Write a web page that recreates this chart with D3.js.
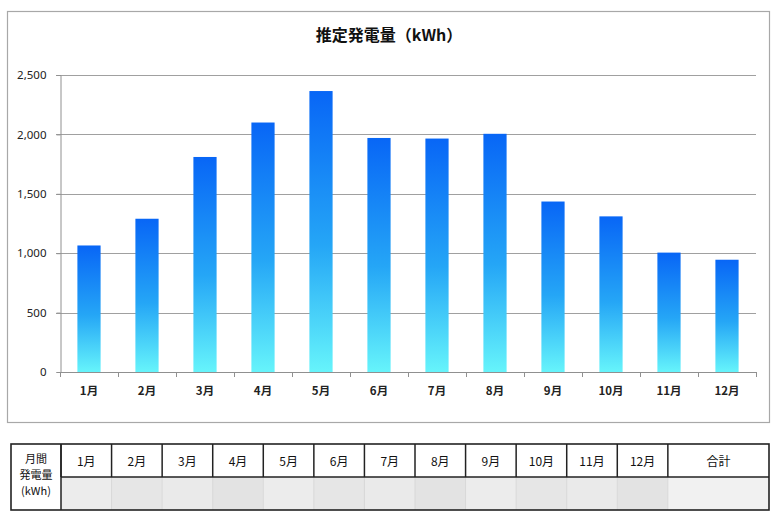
<!DOCTYPE html>
<html>
<head>
<meta charset="utf-8">
<script src="https://cdn.jsdelivr.net/npm/d3@7"></script>
<style>
  html, body { margin: 0; padding: 0; background: #fff; }
  svg { display: block; font-family: "Noto Sans CJK JP", "Noto Sans", sans-serif; }
</style>
</head>
<body>
<svg id="chart" width="779" height="523"></svg>
<script>
// ---- data ----
const months = ["1月","2月","3月","4月","5月","6月","7月","8月","9月","10月","11月","12月"];
const generation = [1065, 1290, 1810, 2100, 2365, 1970, 1965, 2005, 1435, 1310, 1005, 945];
const yTicks = [0, 500, 1000, 1500, 2000, 2500];
const title = "推定発電量（kWh）";
const tableRowLabel = ["月間", "発電量", "(kWh)"];
const tableHeaders = months.concat(["合計"]);

// ---- drawing ----
const svg = d3.select("#chart");
const defs = svg.append("defs");
const grad = defs.append("linearGradient")
  .attr("id", "barGrad").attr("x1", 0).attr("y1", 0).attr("x2", 0).attr("y2", 1);
grad.append("stop").attr("offset", "0%").attr("stop-color", "#0866f6");
grad.append("stop").attr("offset", "55%").attr("stop-color", "#25a6f6");
grad.append("stop").attr("offset", "100%").attr("stop-color", "#66f4fb");

// chart frame
svg.append("rect")
  .attr("x", 7.5).attr("y", 11.5).attr("width", 762).attr("height", 411)
  .attr("fill", "#fff").attr("stroke", "#a8a8a8").attr("stroke-width", 1.2);

// title
svg.append("text")
  .attr("x", 389).attr("y", 41)
  .attr("text-anchor", "middle")
  .attr("font-size", 16).attr("font-weight", "bold").attr("fill", "#111")
  .text(title);

const plotLeft = 60, plotRight = 756, plotTop = 75, plotBottom = 372;

const y = d3.scaleLinear().domain([0, 2500]).range([plotBottom, plotTop]);
const x = d3.scaleBand().domain(months).range([plotLeft, plotRight])
  .paddingInner(0.6).paddingOuter(0.3);

// gridlines
svg.append("g").selectAll("line")
  .data(yTicks.filter(d => d > 0))
  .join("line")
  .attr("x1", plotLeft - 4).attr("x2", plotRight)
  .attr("y1", d => Math.round(y(d)) + 0.5).attr("y2", d => Math.round(y(d)) + 0.5)
  .attr("stroke", "#a0a0a0").attr("stroke-width", 1);

// y axis
const yAxis = svg.append("g")
  .attr("transform", `translate(${plotLeft + 0.5},0)`)
  .call(d3.axisLeft(y).tickValues(yTicks).tickSize(4).tickPadding(10)
    .tickFormat(d3.format(",")));
yAxis.select(".domain").attr("stroke", "#909090");
yAxis.selectAll(".tick line").attr("stroke", "#909090");
yAxis.selectAll("text").attr("font-size", 11.5).attr("fill", "#222")
  .attr("font-family", "'Noto Sans', 'DejaVu Sans', sans-serif");

// bars
svg.append("g").selectAll("rect")
  .data(months.map((m, i) => ({ m, v: generation[i] })))
  .join("rect")
  .attr("x", d => x(d.m))
  .attr("y", d => y(d.v))
  .attr("width", x.bandwidth())
  .attr("height", d => y(0) - y(d.v))
  .attr("fill", "url(#barGrad)");

// x axis
const step = x.step();
const xg = svg.append("g");
xg.append("line")
  .attr("x1", plotLeft).attr("x2", plotRight)
  .attr("y1", plotBottom + 0.5).attr("y2", plotBottom + 0.5)
  .attr("stroke", "#909090");
xg.selectAll("line.tk")
  .data(d3.range(months.length + 1))
  .join("line").attr("class", "tk")
  .attr("x1", i => Math.round(plotLeft + i * step) + 0.5)
  .attr("x2", i => Math.round(plotLeft + i * step) + 0.5)
  .attr("y1", plotBottom).attr("y2", plotBottom + 5)
  .attr("stroke", "#909090");
xg.selectAll("text")
  .data(months)
  .join("text")
  .attr("x", d => x(d) + x.bandwidth() / 2)
  .attr("y", 395)
  .attr("text-anchor", "middle")
  .attr("font-size", 11.5).attr("font-weight", "bold").attr("fill", "#222")
  .text(d => d);

// ---- table ----
const tLeft = 11, tFirst = 61, tRight = 769, tTop = 444, tMid = 477, tBottom = 510;
const units = d3.sum(tableHeaders, d => d === "合計" ? 2 : 1);
const tx = d3.scaleLinear().domain([0, units]).range([tFirst, tRight]);
const cols = [];
let acc = 0;
tableHeaders.forEach(h => {
  const w = h === "合計" ? 2 : 1;
  cols.push({ h, x0: tx(acc), x1: tx(acc + w) });
  acc += w;
});

const tg = svg.append("g");
// blurred value row
const shades = ["#ececec", "#e6e6e6", "#eaeaea", "#e3e3e3"];
tg.selectAll("rect.v")
  .data(cols)
  .join("rect").attr("class", "v")
  .attr("x", d => d.x0).attr("y", tMid)
  .attr("width", d => d.x1 - d.x0).attr("height", tBottom - tMid)
  .attr("fill", (d, i) => d.h === "合計" ? "#f1f1f1" : shades[i % shades.length]);

// header vertical lines
tg.selectAll("line.vl")
  .data(cols)
  .join("line").attr("class", "vl")
  .attr("x1", d => d.x0).attr("x2", d => d.x0)
  .attr("y1", tTop).attr("y2", tMid)
  .attr("stroke", "#222").attr("stroke-width", 1.5);
// faint lines in value row
tg.selectAll("line.vl2")
  .data(cols.slice(1))
  .join("line").attr("class", "vl2")
  .attr("x1", d => d.x0).attr("x2", d => d.x0)
  .attr("y1", tMid).attr("y2", tBottom)
  .attr("stroke", "#d8d8d8").attr("stroke-width", 1);

tg.append("line")
  .attr("x1", tFirst).attr("x2", tRight).attr("y1", tMid).attr("y2", tMid)
  .attr("stroke", "#222").attr("stroke-width", 1.5);
tg.append("line")
  .attr("x1", tFirst).attr("x2", tFirst).attr("y1", tTop).attr("y2", tBottom)
  .attr("stroke", "#222").attr("stroke-width", 1.5);
tg.append("rect")
  .attr("x", tLeft).attr("y", tTop).attr("width", tRight - tLeft).attr("height", tBottom - tTop)
  .attr("fill", "none").attr("stroke", "#222").attr("stroke-width", 1.6);

tg.selectAll("text.h")
  .data(cols)
  .join("text").attr("class", "h")
  .attr("x", d => (d.x0 + d.x1) / 2).attr("y", 466)
  .attr("text-anchor", "middle")
  .attr("font-size", 12).attr("fill", "#111")
  .text(d => d.h);

tg.selectAll("text.rl")
  .data(tableRowLabel)
  .join("text").attr("class", "rl")
  .attr("x", (tLeft + tFirst) / 2)
  .attr("y", (d, i) => 463 + i * 16)
  .attr("text-anchor", "middle")
  .attr("font-size", 11).attr("fill", "#111")
  .text(d => d);
</script>
</body>
</html>
